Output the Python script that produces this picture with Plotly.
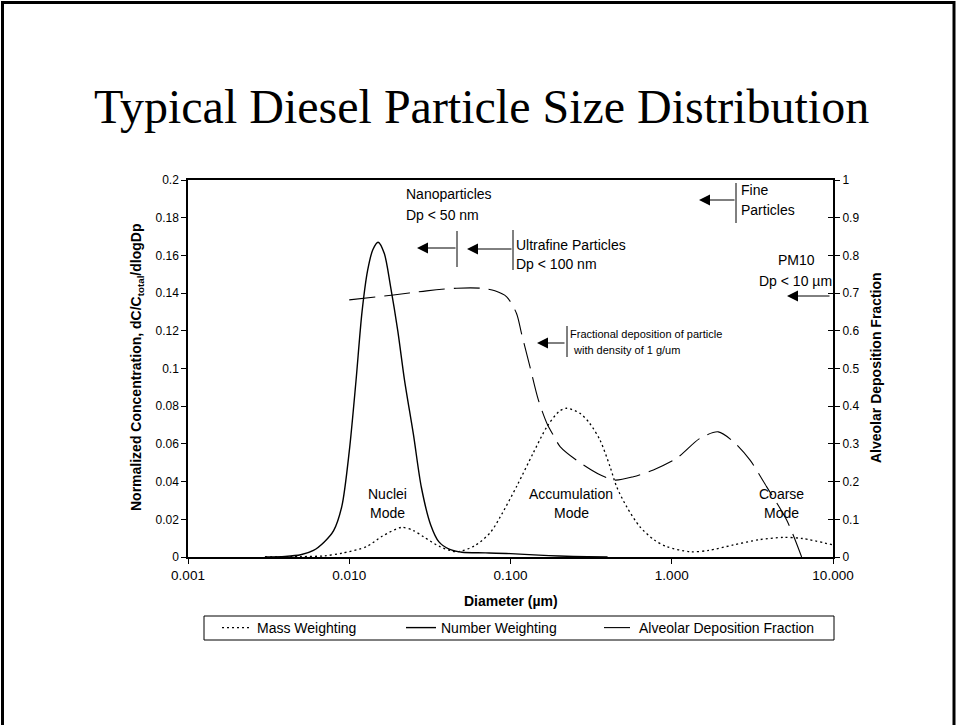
import plotly.graph_objects as go

# ---- data -------------------------------------------------------------
# particle diameter (um) and normalized concentration dC/Ctotal/dlogDp
number_dp = [0.0030, 0.0040, 0.0050, 0.0060, 0.0070, 0.0080, 0.0090, 0.0100,
             0.0110, 0.0120, 0.0130, 0.0140, 0.0151, 0.0165, 0.0180, 0.0200,
             0.0220, 0.0250, 0.0280, 0.0320, 0.0360, 0.0420, 0.0500, 0.0700,
             0.1000, 0.1500, 0.2000, 0.3000, 0.4000]
number_weighting = [0.0, 0.0003, 0.0012, 0.0035, 0.0080, 0.0140, 0.0270, 0.0560,
                    0.0930, 0.1300, 0.1520, 0.1630, 0.1670, 0.1610, 0.1440, 0.1200,
                    0.0940, 0.0650, 0.0370, 0.0170, 0.0080, 0.0040, 0.0025, 0.0022,
                    0.0018, 0.0010, 0.0005, 0.0001, 0.0]

mass_dp = [0.0030, 0.0050, 0.0070, 0.0090, 0.0128, 0.0160, 0.0211, 0.0250,
           0.0288, 0.0365, 0.0464, 0.0600, 0.0750, 0.0860, 0.1100, 0.1380,
           0.1680, 0.2000, 0.2230, 0.2700, 0.3100, 0.3590, 0.4140, 0.4550,
           0.5250, 0.6350, 0.7800, 0.9300, 1.3000, 1.7000, 2.4100, 3.5000,
           4.9200, 6.5000, 10.000]
mass_weighting = [0.0, 0.0002, 0.0006, 0.0020, 0.0055, 0.0110, 0.0157, 0.0140,
                  0.0108, 0.0055, 0.0028, 0.0060, 0.0130, 0.0210, 0.0380, 0.0550,
                  0.0690, 0.0772, 0.0789, 0.0762, 0.0709, 0.0620, 0.0480, 0.0373,
                  0.0267, 0.0160, 0.0090, 0.0055, 0.0028, 0.0035, 0.0064, 0.0092,
                  0.0104, 0.0098, 0.0064]

# alveolar deposition fraction (right axis)
deposition_dp = [0.0100, 0.0188, 0.0302, 0.0464, 0.0650, 0.0800, 0.0947, 0.1090,
                 0.1170, 0.1320, 0.1490, 0.1700, 0.1850, 0.2030, 0.2640, 0.3590,
                 0.4450, 0.5780, 0.7690, 1.0730, 1.5000, 1.9440, 2.4100, 3.0600,
                 3.8800, 5.1600, 6.3900]
deposition_fraction = [0.682, 0.695, 0.706, 0.713, 0.713, 0.706, 0.690, 0.646,
                       0.593, 0.505, 0.416, 0.350, 0.322, 0.293, 0.253, 0.218,
                       0.204, 0.213, 0.231, 0.262, 0.315, 0.332, 0.306, 0.257,
                       0.186, 0.098, 0.0]

# ---- axis ticks ---------------------------------------------------------
x_tick_values = [0.001, 0.01, 0.1, 1, 10]
x_tick_labels = ["0.001", "0.010", "0.100", "1.000", "10.000"]
y_tick_values = [0, 0.02, 0.04, 0.06, 0.08, 0.1, 0.12, 0.14, 0.16, 0.18, 0.2]
y_tick_labels = ["0", "0.02", "0.04", "0.06", "0.08", "0.1", "0.12", "0.14",
                 "0.16", "0.18", "0.2"]
y2_tick_values = [0, 0.1, 0.2, 0.3, 0.4, 0.5, 0.6, 0.7, 0.8, 0.9, 1]
y2_tick_labels = ["0", "0.1", "0.2", "0.3", "0.4", "0.5", "0.6", "0.7", "0.8",
                  "0.9", "1"]

# ---- layout geometry (pixels) -------------------------------------------
W, H = 957, 725
PL, PR, PT, PB = 188, 833, 180, 557


def px(x):
    return (x - PL) / (PR - PL)


def py(y):
    return (PB - y) / (PB - PT)


SANS = "Liberation Sans, Arial, sans-serif"
SERIF = "Liberation Serif, Times New Roman, serif"

fig = go.Figure()

fig.add_trace(go.Scatter(
    x=mass_dp, y=mass_weighting, name="Mass Weighting", mode="lines",
    line=dict(color="black", width=1.3, dash="2px,3px", shape="spline", smoothing=0.8),
    legend="legend"))
fig.add_trace(go.Scatter(
    x=number_dp, y=number_weighting, name="Number Weighting", mode="lines",
    line=dict(color="black", width=1.4, shape="spline", smoothing=0.8),
    legend="legend2"))
fig.add_trace(go.Scatter(
    x=deposition_dp, y=deposition_fraction, name="Alveolar Deposition Fraction",
    mode="lines", yaxis="y2",
    line=dict(color="black", width=1.1, dash="26px,9px", shape="spline", smoothing=0.8),
    legend="legend3"))
# inner half of the cross ticks on the right axis
fig.add_trace(go.Scatter(x=[None], y=[None], yaxis="y3", showlegend=False,
                         hoverinfo="skip"))

axis_font = dict(family=SANS, size=12, color="black")

fig.update_layout(
    width=W, height=H,
    margin=dict(l=PL, r=W - PR, t=PT, b=H - PB, pad=0),
    paper_bgcolor="white", plot_bgcolor="white",
    showlegend=True,
    xaxis=dict(type="log", range=[-3, 1], tickvals=x_tick_values,
               ticktext=x_tick_labels, showgrid=False, zeroline=False,
               showline=True, linecolor="black", linewidth=1.5, mirror=True,
               ticks="outside", ticklen=5, tickcolor="black",
               tickfont=dict(family=SANS, size=13.5, color="black")),
    yaxis=dict(range=[0, 0.2], tickvals=y_tick_values, ticktext=y_tick_labels,
               showgrid=False, zeroline=False, showline=True, linecolor="black",
               linewidth=1.5, ticks="outside", ticklen=5, tickcolor="black",
               tickfont=axis_font),
    yaxis2=dict(range=[0, 1], overlaying="y", side="right", anchor="x",
                tickvals=y2_tick_values, ticktext=y2_tick_labels,
                showgrid=False, zeroline=False, showline=True, linecolor="black",
                linewidth=2, ticks="outside", ticklen=5, tickcolor="black",
                tickfont=axis_font),
    yaxis3=dict(range=[0, 1], overlaying="y", side="right", anchor="x",
                tickvals=y2_tick_values, showticklabels=False, showgrid=False,
                zeroline=False, showline=False, ticks="inside", ticklen=5,
                tickcolor="black"),
)

legend_common = dict(orientation="h", yanchor="middle", xanchor="left",
                     y=py(628), bgcolor="rgba(0,0,0,0)", borderwidth=0,
                     font=dict(family=SANS, size=14, color="black"))
fig.update_layout(
    legend=dict(x=px(217), **legend_common),
    legend2=dict(x=px(401), **legend_common),
    legend3=dict(x=px(599), **legend_common),
)

annotations = []


def label(text, x, y, anchor="left", size=14, **kw):
    annotations.append(dict(text=text, x=px(x), y=py(y), xref="paper",
                            yref="paper", xanchor=anchor, yanchor="middle",
                            showarrow=False,
                            font=dict(family=SANS, size=size, color="black"), **kw))


def arrow(x_head, x_tail, y):
    annotations.append(dict(text="", x=px(x_head), y=py(y), xref="paper",
                            yref="paper", ax=x_tail - x_head, ay=0,
                            showarrow=True, arrowhead=2, arrowsize=2.2,
                            arrowwidth=1, arrowcolor="black", standoff=0))


# title
annotations.append(dict(text="Typical Diesel Particle Size Distribution",
                        x=px(481), y=py(106), xref="paper", yref="paper",
                        xanchor="center", yanchor="middle", showarrow=False,
                        font=dict(family=SERIF, size=48, color="black")))

# axis titles
annotations.append(dict(text="Normalized Concentration, dC/C<sub>total</sub>/dlogDp",
                        x=px(137), y=py(368), xref="paper", yref="paper",
                        xanchor="center", yanchor="middle", textangle=-90,
                        showarrow=False,
                        font=dict(family=SANS, size=14, color="black", weight="bold")))
annotations.append(dict(text="Alveolar Deposition Fraction",
                        x=px(876), y=py(368), xref="paper", yref="paper",
                        xanchor="center", yanchor="middle", textangle=-90,
                        showarrow=False,
                        font=dict(family=SANS, size=14, color="black", weight="bold")))
annotations.append(dict(text="Diameter (µm)", x=px(511), y=py(601),
                        xref="paper", yref="paper", xanchor="center",
                        yanchor="middle", showarrow=False,
                        font=dict(family=SANS, size=14, color="black", weight="bold")))

# size class labels
label("Nanoparticles", 404, 194)
label("Dp < 50 nm", 404, 215)
label("Ultrafine Particles", 514, 245)
label("Dp < 100 nm", 514, 264)
label("Fine", 739, 190)
label("Particles", 739, 210)
label("PM10", 796, 260, anchor="center")
label("Dp < 10 µm", 834, 281, anchor="right")
label("Fractional deposition of particle", 568, 334, size=11)
label("with density of 1 g/um", 571, 350, size=11)

# mode labels
for name, xc in (("Nuclei", 387), ("Accumulation", 571), ("Coarse", 781)):
    label(name, xc, 494, anchor="center")
    label("Mode", xc, 513, anchor="center")

arrow(417, 457, 248)
arrow(467, 513, 249)
arrow(699, 736, 200)
arrow(787, 831, 296)
arrow(537, 566, 343)

fig.update_layout(annotations=annotations)

shapes = []


def vline(x, y0, y1):
    shapes.append(dict(type="line", xref="paper", yref="paper", x0=px(x), x1=px(x),
                       y0=py(y0), y1=py(y1), line=dict(color="black", width=1)))


vline(457, 231, 267)
vline(513, 230, 270)
vline(736, 183, 223)
vline(567, 326, 357)

# legend frame
shapes.append(dict(type="rect", xref="paper", yref="paper", x0=px(204), x1=px(834),
                   y0=py(616), y1=py(640), line=dict(color="black", width=1)))
# slide frame
shapes.append(dict(type="rect", xref="paper", yref="paper", x0=px(2.5), x1=px(954),
                   y0=py(2.5), y1=py(800), line=dict(color="black", width=3)))

fig.update_layout(shapes=shapes)

fig.write_html("out.html")
